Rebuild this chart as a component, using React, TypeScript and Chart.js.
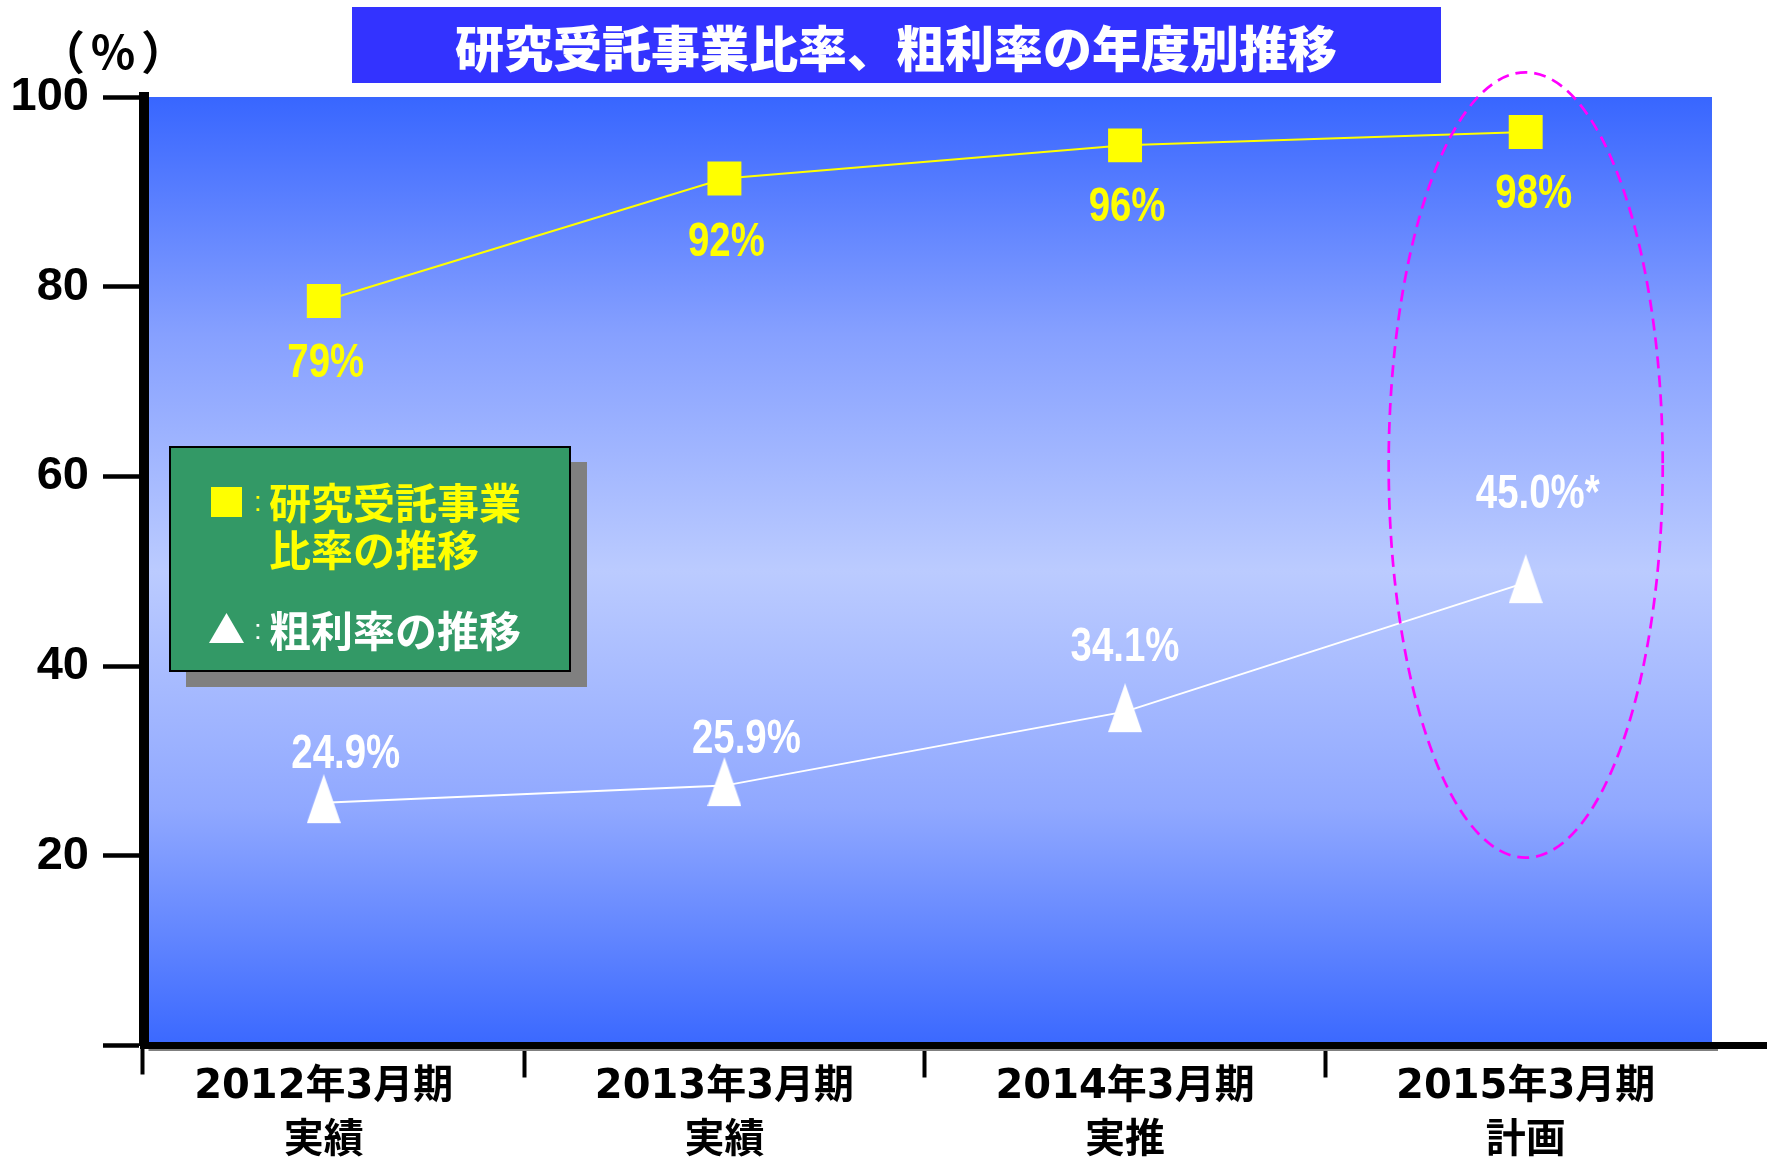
import { useEffect, useRef } from 'react';
import { Chart, registerables } from 'chart.js';

Chart.register(...registerables);

// ---------- data ----------
const CATEGORIES: string[][] = [
  ['2012年3月期', '実績'],
  ['2013年3月期', '実績'],
  ['2014年3月期', '実推'],
  ['2015年3月期', '計画'],
];
const CONTRACT_RATIO = [78.5, 91.4, 94.9, 96.3];
const GROSS_MARGIN = [25.6, 27.4, 35.2, 48.8];
const CONTRACT_LABELS = ['79%', '92%', '96%', '98%'];
const MARGIN_LABELS = ['24.9%', '25.9%', '34.1%', '45.0%*'];
const Y_TICKS = [0, 20, 40, 60, 80, 100];
const TITLE = '研究受託事業比率、粗利率の年度別推移';
const UNIT = ['（', '％', '）'];
const LEGEND_CONTRACT = ['研究受託事業', '比率の推移'];
const LEGEND_MARGIN = '粗利率の推移';
const HIGHLIGHT = { category: 3, yBottom: 19.8, yTop: 102.6, halfWidth: 0.342 };

// ---------- layout / style ----------
const X_MIN = -0.45;
const X_MAX = 3.465;
const CONTRACT_LABEL_OFFSET = { dx: [2, 2, 2, 8], dy: [63, 64, 62, 63] };
const MARGIN_LABEL_OFFSET = { dx: [22, 22, 0, 12], dy: [-48, -46, -64, -88] };
const UNIT_CENTERS = [76, 113, 150];
const YELLOW = '#FFFF00';
const WHITE = '#FFFFFF';

function makeTriangle(w: number, h: number, padBottom: number, color: string) {
  const c = document.createElement('canvas');
  c.width = w;
  c.height = h + padBottom;
  const g = c.getContext('2d')!;
  g.fillStyle = color;
  g.beginPath();
  g.moveTo(w / 2, 0);
  g.lineTo(w, h);
  g.lineTo(0, h);
  g.closePath();
  g.fill();
  return c;
}

function drawNarrow(ctx: CanvasRenderingContext2D, text: string, x: number, y: number, font: string, color: string, sx: number) {
  ctx.save();
  ctx.translate(x, y);
  ctx.scale(sx, 1);
  ctx.font = font;
  ctx.fillStyle = color;
  ctx.textAlign = 'center';
  ctx.textBaseline = 'middle';
  ctx.fillText(text, 0, 0);
  ctx.restore();
}

function drawGlyphCentered(ctx: CanvasRenderingContext2D, ch: string, cx: number, y: number) {
  ctx.textAlign = 'left';
  const m = ctx.measureText(ch);
  const x = cx - (m.actualBoundingBoxRight - m.actualBoundingBoxLeft) / 2;
  ctx.fillText(ch, x, y);
}

const decorPlugin = {
  id: 'decor',
  beforeDraw(chart: any) {
    const { ctx, chartArea } = chart;
    const { left, right, top, bottom } = chartArea;
    const g = ctx.createLinearGradient(0, top, 0, bottom);
    g.addColorStop(0, '#3866FF');
    g.addColorStop(0.25, '#86A0FF');
    g.addColorStop(0.5, '#BBCBFF');
    g.addColorStop(0.75, '#90A8FF');
    g.addColorStop(1, '#3A68FF');
    ctx.save();
    ctx.fillStyle = g;
    ctx.fillRect(left, top, right - left, bottom - top);
    ctx.restore();
  },
  afterDatasetsDraw(chart: any) {
    const { ctx } = chart;
    const xs = chart.scales.x;
    const ys = chart.scales.y;
    const m0 = chart.getDatasetMeta(0);
    const m1 = chart.getDatasetMeta(1);
    const labelFont = "bold 48px 'Liberation Sans', Arial, sans-serif";
    m0.data.forEach((pt: any, i: number) => {
      drawNarrow(ctx, CONTRACT_LABELS[i], pt.x + CONTRACT_LABEL_OFFSET.dx[i], pt.y + CONTRACT_LABEL_OFFSET.dy[i], labelFont, YELLOW, 0.8);
    });
    m1.data.forEach((pt: any, i: number) => {
      drawNarrow(ctx, MARGIN_LABELS[i], pt.x + MARGIN_LABEL_OFFSET.dx[i], pt.y + MARGIN_LABEL_OFFSET.dy[i], labelFont, WHITE, 0.8);
    });
    // dashed highlight ellipse
    const cx = xs.getPixelForValue(HIGHLIGHT.category);
    const yT = ys.getPixelForValue(HIGHLIGHT.yTop);
    const yB = ys.getPixelForValue(HIGHLIGHT.yBottom);
    const rx = Math.abs(xs.getPixelForValue(HIGHLIGHT.category + HIGHLIGHT.halfWidth) - cx);
    ctx.save();
    ctx.strokeStyle = '#FF00FF';
    ctx.lineWidth = 2.7;
    ctx.setLineDash([12, 7]);
    ctx.beginPath();
    ctx.ellipse(cx, (yT + yB) / 2, rx, (yB - yT) / 2, 0, 0, Math.PI * 2);
    ctx.stroke();
    ctx.restore();
  },
  afterDraw(chart: any) {
    const { ctx, chartArea, width } = chart;
    ctx.save();
    // x-axis line continues to the right edge
    ctx.strokeStyle = '#000';
    ctx.lineWidth = 7;
    ctx.beginPath();
    ctx.moveTo(chartArea.right - 2, chartArea.bottom);
    ctx.lineTo(width, chartArea.bottom);
    ctx.stroke();
    // thin grey rule under the axis
    ctx.strokeStyle = '#7F7F7F';
    ctx.lineWidth = 2;
    ctx.beginPath();
    ctx.moveTo(chartArea.left + 5, chartArea.bottom + 4.5);
    ctx.lineTo(chartArea.right + 6, chartArea.bottom + 4.5);
    ctx.stroke();
    // left tick under the axis corner
    ctx.strokeStyle = '#000';
    ctx.lineWidth = 4;
    ctx.beginPath();
    ctx.moveTo(chartArea.left - 1, chartArea.bottom);
    ctx.lineTo(chartArea.left - 1, chartArea.bottom + 29);
    ctx.stroke();

    // title box
    ctx.fillStyle = '#3333FF';
    ctx.fillRect(352, 7, 1089, 76);
    ctx.fillStyle = '#FFFFFF';
    ctx.font = "900 49px 'Noto Sans CJK JP', sans-serif";
    ctx.textAlign = 'center';
    ctx.textBaseline = 'middle';
    ctx.fillText(TITLE, 896, 48);

    // unit
    ctx.fillStyle = '#000';
    ctx.font = "bold 46px 'Noto Sans CJK JP', sans-serif";
    ctx.textBaseline = 'middle';
    UNIT.forEach((ch, i) => drawGlyphCentered(ctx, ch, UNIT_CENTERS[i], 52));

    // legend box with shadow
    ctx.fillStyle = '#808080';
    ctx.fillRect(186, 462, 401, 225);
    ctx.fillStyle = '#339966';
    ctx.fillRect(170, 447, 400, 224);
    ctx.strokeStyle = '#000';
    ctx.lineWidth = 2;
    ctx.strokeRect(170, 447, 400, 224);
    // legend markers
    ctx.fillStyle = YELLOW;
    ctx.fillRect(211, 487, 31, 30);
    ctx.fillStyle = WHITE;
    ctx.beginPath();
    ctx.moveTo(226.5, 613);
    ctx.lineTo(244, 643);
    ctx.lineTo(209, 643);
    ctx.closePath();
    ctx.fill();
    // legend text
    ctx.textAlign = 'left';
    ctx.font = "28px 'Liberation Sans', sans-serif";
    ctx.fillStyle = YELLOW;
    ctx.fillText(':', 254, 503);
    ctx.fillStyle = WHITE;
    ctx.fillText(':', 254, 631);
    ctx.font = "bold 42px 'Noto Sans CJK JP', sans-serif";
    ctx.fillStyle = YELLOW;
    ctx.fillText(LEGEND_CONTRACT[0], 269, 503);
    ctx.fillText(LEGEND_CONTRACT[1], 269, 550);
    ctx.fillStyle = WHITE;
    ctx.fillText(LEGEND_MARGIN, 269, 631);
    ctx.restore();
  },
};

export default function App() {
  const ref = useRef<HTMLCanvasElement | null>(null);

  useEffect(() => {
    if (!ref.current) return;
    const tri = makeTriangle(34, 49, 8, WHITE);
    const chart = new Chart(ref.current, {
      type: 'line',
      data: {
        datasets: [
          {
            label: '研究受託事業比率の推移',
            data: CONTRACT_RATIO.map((v, i) => ({ x: i, y: v })),
            borderColor: YELLOW,
            borderWidth: 2,
            pointStyle: 'rect',
            pointRadius: 24,
            pointBackgroundColor: YELLOW,
            pointBorderWidth: 0,
            pointBorderColor: YELLOW,
            tension: 0,
          },
          {
            label: '粗利率の推移',
            data: GROSS_MARGIN.map((v, i) => ({ x: i, y: v })),
            borderColor: WHITE,
            borderWidth: 2,
            pointStyle: tri as any,
            pointRadius: 20,
            pointBorderWidth: 0,
            tension: 0,
          },
        ],
      },
      options: {
        animation: false,
        responsive: false,
        devicePixelRatio: 1,
        layout: { padding: { top: 97, right: 55, left: 0, bottom: 0 } },
        plugins: { legend: { display: false }, tooltip: { enabled: false }, title: { display: false } },
        scales: {
          x: {
            type: 'linear',
            min: X_MIN,
            max: X_MAX,
            afterBuildTicks: (s: any) => {
              s.ticks = CATEGORIES.map((_, i) => ({ value: i }));
            },
            afterFit: (s: any) => {
              s.height = 111.5;
            },
            ticks: {
              autoSkip: false,
              maxRotation: 0,
              minRotation: 0,
              padding: -17,
              color: '#000',
              font: { family: "'DejaVu Sans', 'Noto Sans CJK JP', sans-serif", size: 40, weight: 'bold', lineHeight: 1.35 },
              callback: (v: any) => CATEGORIES[v] ?? '',
            },
            grid: {
              display: true,
              drawOnChartArea: false,
              drawTicks: true,
              tickLength: 32,
              tickWidth: 4,
              tickColor: '#000',
              color: '#000',
              offset: true,
            },
            border: { display: true, color: '#000', width: 7 },
          },
          y: {
            min: 0,
            max: 100,
            afterBuildTicks: (s: any) => {
              s.ticks = Y_TICKS.map((v) => ({ value: v }));
            },
            afterFit: (s: any) => {
              s.width = 143.5;
            },
            ticks: {
              padding: 14,
              color: '#000',
              font: { family: "'Liberation Sans', Arial, sans-serif", size: 47, weight: 'bold' },
              callback: (v: any) => (v === 0 ? '' : String(v)),
            },
            grid: {
              drawOnChartArea: false,
              drawTicks: true,
              tickLength: 40.5,
              tickWidth: 4.5,
              tickColor: '#000',
              color: '#000',
            },
            border: { display: true, color: '#000', width: 10 },
          },
        },
      } as any,
      plugins: [decorPlugin],
    });
    return () => chart.destroy();
  }, []);

  return (
    <div style={{ position: 'fixed', left: 0, top: 0, width: 1767, height: 1157, background: '#fff' }}>
      <canvas ref={ref} width={1767} height={1157} style={{ display: 'block', width: 1767, height: 1157 }} />
    </div>
  );
}
